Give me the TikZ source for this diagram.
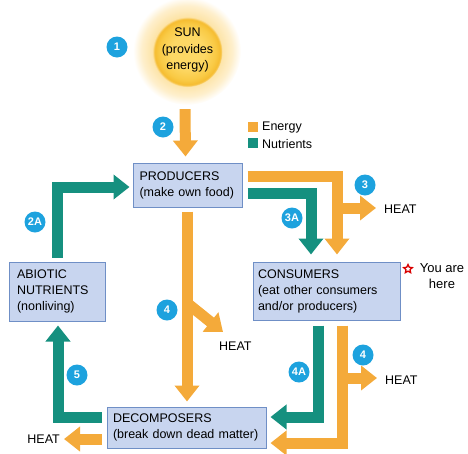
\documentclass[tikz,border=0pt]{standalone}
\usepackage{fontspec}
\setmainfont{Liberation Sans}
\usetikzlibrary{arrows.meta,calc,shapes.geometric}
\definecolor{enc}{HTML}{F4AA3A}
\definecolor{nuc}{HTML}{15907F}
\definecolor{numc}{HTML}{1DA2DE}
\definecolor{boxf}{HTML}{C8D5EF}
\definecolor{boxd}{HTML}{6F8FC6}
\definecolor{glowin}{HTML}{FDE4A8}
\definecolor{glowmid}{HTML}{FEEFCC}
\definecolor{sunin}{HTML}{FDD865}
\definecolor{sunmid}{HTML}{F9CA45}
\definecolor{sunout}{HTML}{F5BC30}
\pgfdeclareradialshading{glowsh}{\pgfpoint{0bp}{0bp}}{color(0bp)=(glowin); color(16bp)=(glowin); color(21bp)=(glowmid); color(25bp)=(white); color(50bp)=(white)}
\pgfdeclareradialshading{sunsh}{\pgfpoint{0bp}{0bp}}{color(0bp)=(sunin); color(12bp)=(sunin); color(20bp)=(sunmid); color(23.5bp)=(sunout); color(25bp)=(glowin); color(50bp)=(glowin)}
\tikzset{
  arr/.style={line width=11pt, -{Triangle[width=24pt,length=16pt]}, line join=miter},
  en/.style={arr, draw=enc},
  nu/.style={arr, draw=nuc},
  num/.style={circle, fill=numc, text=white, font=\bfseries\fontsize{11}{11}\selectfont, minimum size=21pt, inner sep=0pt},
  lab/.style={font=\fontsize{12.5}{15.5}\selectfont, inner sep=0pt},
  box/.style={draw=boxd, fill=boxf, line width=1pt, align=left, inner ysep=3pt, font=\fontsize{12.5}{16}\selectfont},
  legsq/.style={fill=#1, minimum size=10pt, inner sep=0pt}
}
\begin{document}
\begin{tikzpicture}[x=1pt,y=-1pt]
\useasboundingbox (0,0) rectangle (468,453);
% sun
\shade[shading=glowsh] (187,51) circle (54);
\shade[shading=sunsh] (187.5,52) circle (35);
\node[circle, minimum size=64pt, inner sep=0pt, align=center, font=\fontsize{12.5}{16.5}\selectfont] (sun) at (187.5,50) {SUN\\(provides\\energy)};
% boxes
\node[box, text width=96pt, inner xsep=6.5pt, minimum height=44pt] (prod) at (187.5,185) {PRODUCERS\\(make own food)};
\node[box, text width=137pt, inner xsep=5pt, minimum height=58pt] (cons) at (326.5,291) {CONSUMERS\\(eat other consumers\\and/or producers)};
\node[box, text width=80pt, inner xsep=8pt, minimum height=59pt] (abio) at (57,291.5) {ABIOTIC\\NUTRIENTS\\(nonliving)};
\node[box, text width=147pt, inner xsep=6pt, minimum height=41pt] (dec) at (186.5,427.5) {DECOMPOSERS\\(break down dead matter)};
% heat labels
\node[lab, anchor=west] (heat3) at (384,209) {HEAT};
\node[lab, anchor=west] (heat4r) at (385,380) {HEAT};
\node[lab, anchor=west] (heat4m) at (219,346) {HEAT};
\node[lab, anchor=east] (heatd) at (60,439) {HEAT};
% junctions on shafts
\coordinate (j3) at (337,208);
\coordinate (j4r) at (342,378);
\coordinate (j4m) at (187,303);
% arrows
\draw[en] ($(sun.south)+(-2.5,25)$) -- ($(prod.north)+(-2,-6)$);
\draw[en] ($(prod.east)+(5,-9)$) -| ($(cons.north)+(10.5,-7)$);
\draw[nu] ($(prod.east)+(5,8)$) -| ($(cons.north)+(-15.5,-7)$);
\draw[en] (j3) -- ($(heat3.west)+(-8,-1)$);
\draw[nu] ($(cons.south)+(-8.5,5)$) |- ($(dec.east)+(4,-10.5)$);
\draw[en] ($(cons.south)+(15.5,5)$) |- ($(dec.east)+(4,15.5)$);
\draw[en] (j4r) -- ($(heat4r.west)+(-8,-2)$);
\draw[en] ($(prod.south)+(-0.5,4)$) -- ($(dec.north)+(0.5,-5)$);
\draw[en] (j4m) -- ($(heat4m.west)+(4,-14)$);
\draw[en] ($(dec.west)+(-5,11.5)$) -- ($(heatd.east)+(4,0)$);
\draw[nu] ($(dec.west)+(-5,-10.5)$) -| ($(abio.south)+(1,4)$);
\draw[nu] ($(abio.north)+(0,-4)$) |- ($(prod.west)+(-3,2)$);
% legend
\node[legsq=enc] (lsq1) at (253,127) {};
\node[legsq=nuc] (lsq2) at (253,143) {};
\node[lab, anchor=west] (lt1) at (262,127) {Energy};
\node[lab, anchor=west] (lt2) at (262,144) {Nutrients};
% you are here
\node[star, star points=5, star point ratio=2.1, draw=red!85!black, fill=white, line width=1.3pt, minimum size=9pt, inner sep=0pt] (star) at (408,269) {};
\node[lab, align=center, font=\fontsize{13}{16}\selectfont] (here) at (442,276) {You are\\here};
% numbers
\node[num] (n1) at (117,47) {1};
\node[num] (n2) at (163,127) {2};
\node[num] (n3) at (365,185) {3};
\node[num] (n3a) at (292,218) {3A};
\node[num] (n2a) at (35,222) {2A};
\node[num] (n4m) at (167,310) {4};
\node[num] (n4r) at (363,355) {4};
\node[num] (n4a) at (299,372) {4A};
\node[num] (n5) at (77,375) {5};
\end{tikzpicture}
\end{document}
